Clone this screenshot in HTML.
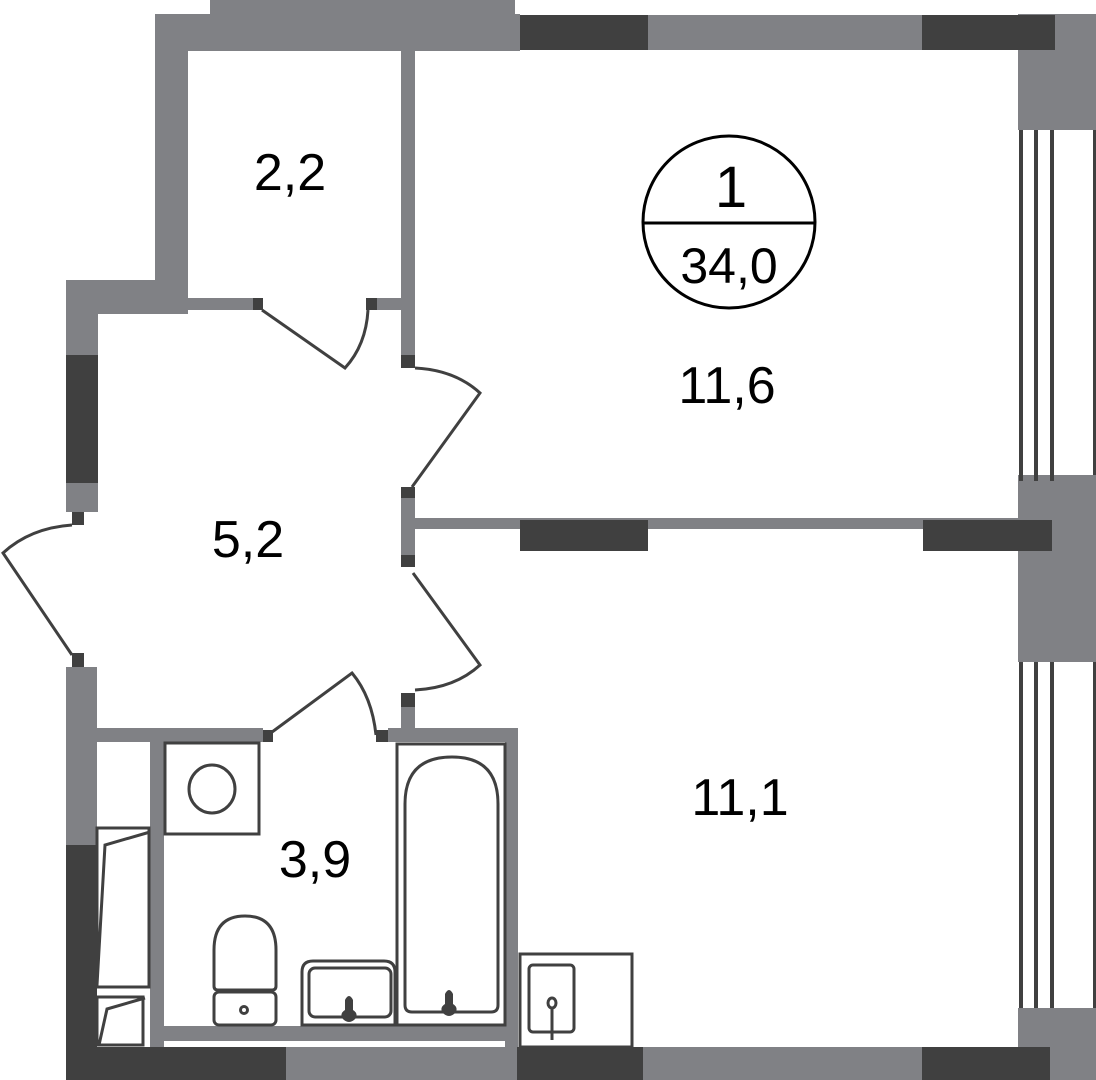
<!DOCTYPE html>
<html><head><meta charset="utf-8"><style>
html,body{margin:0;padding:0;background:#fff;}
svg{display:block;}
text{font-family:"Liberation Sans",Arial,sans-serif;fill:#000;}
</style></head><body>
<svg width="1096" height="1080" viewBox="0 0 1096 1080" xmlns="http://www.w3.org/2000/svg">
<g fill="#808185">
  <rect x="210" y="0" width="305" height="20"/>
  <rect x="155" y="14" width="365" height="37"/>
  <rect x="520" y="15" width="535" height="35"/>
  <rect x="155" y="14" width="33" height="296"/>
  <rect x="1018" y="14" width="78" height="116"/>
  <rect x="66" y="280" width="122" height="34"/>
  <rect x="188" y="298" width="65" height="12"/>
  <rect x="377" y="298" width="24" height="12"/>
  <rect x="401" y="51" width="14" height="304"/>
  <rect x="401" y="498" width="14" height="57"/>
  <rect x="415" y="518" width="603" height="11"/>
  <rect x="401" y="707" width="14" height="21"/>
  <rect x="66" y="310" width="32" height="45"/>
  <rect x="66" y="483" width="32" height="29"/>
  <rect x="66" y="667" width="31" height="178"/>
  <rect x="1018" y="475" width="78" height="187"/>
  <rect x="1018" y="1008" width="78" height="40"/>
  <rect x="97" y="728" width="166" height="14"/>
  <rect x="388" y="728" width="130" height="14"/>
  <rect x="150" y="742" width="14" height="305"/>
  <rect x="505" y="728" width="13" height="319"/>
  <rect x="150" y="1026" width="368" height="15"/>
  <rect x="286" y="1047" width="231" height="33"/>
  <rect x="643" y="1047" width="279" height="33"/>
  <rect x="1050" y="1047" width="46" height="33"/>
</g>
<g fill="#404040">
  <rect x="520" y="15" width="128" height="35"/>
  <rect x="922" y="15" width="133" height="35"/>
  <rect x="520" y="520" width="128" height="31"/>
  <rect x="923" y="520" width="129" height="31"/>
  <rect x="66" y="355" width="32" height="128"/>
  <rect x="66" y="845" width="31" height="235"/>
  <rect x="66" y="1047" width="220" height="33"/>
  <rect x="517" y="1047" width="126" height="33"/>
  <rect x="922" y="1047" width="128" height="33"/>
  <rect x="253" y="298" width="10" height="12"/>
  <rect x="366" y="298" width="11" height="12"/>
  <rect x="401" y="355" width="14" height="13"/>
  <rect x="401" y="487" width="14" height="11"/>
  <rect x="401" y="555" width="14" height="12"/>
  <rect x="401" y="693" width="14" height="14"/>
  <rect x="72" y="512" width="12" height="13"/>
  <rect x="72" y="653" width="12" height="14"/>
  <rect x="263" y="730" width="10" height="12"/>
  <rect x="376" y="730" width="12" height="12"/>
  <rect x="1019" y="130" width="4" height="351"/>
  <rect x="1034" y="130" width="4" height="351"/>
  <rect x="1050" y="130" width="4" height="351"/>
  <rect x="1093" y="130" width="3" height="345"/>
  <rect x="1019" y="662" width="4" height="346"/>
  <rect x="1034" y="662" width="4" height="346"/>
  <rect x="1050" y="662" width="4" height="346"/>
  <rect x="1093" y="662" width="3" height="346"/>
</g>
<g fill="none" stroke="#404040" stroke-width="3">
  <path d="M262 310 L345 368 Q366 345 368 310"/>
  <path d="M415 368 Q455 370 480 393 L412 487"/>
  <path d="M413 573 L480 665 Q455 688 415 690"/>
  <path d="M72 525 Q30 528 3 553 L72 655"/>
  <path d="M268 735 L352 673 Q372 697 376 735"/>
  <rect x="97" y="828" width="52" height="159"/>
  <path d="M97 985 L105 845 L150 832"/>
  <rect x="97" y="997" width="46" height="48"/>
  <path d="M99 1045 L107 1009 L145 998"/>
  <rect x="165" y="743" width="94" height="91"/>
  <ellipse cx="212" cy="789" rx="23" ry="24"/>
  <path d="M214 986 L214 950 Q214 916 245 916 Q276 916 276 950 L276 986 Q276 990 272 990 L218 990 Q214 990 214 986 Z"/>
  <rect x="214" y="992" width="62" height="33" rx="5"/>
  <circle cx="244" cy="1010" r="3.5"/>
  <path d="M302 1025 L302 972 Q302 961 313 961 L384 961 Q395 961 395 972 L395 1025 Z"/>
  <rect x="309" y="968" width="82" height="49" rx="6"/>
  <rect x="397" y="744" width="108" height="281"/>
  <path d="M405 1005 L405 804 Q405 757 452 757 Q498 757 498 804 L498 1005 Q498 1012 491 1012 L412 1012 Q405 1012 405 1005 Z"/>
  <rect x="520" y="954" width="112" height="93"/>
  <rect x="529" y="965" width="45" height="67" rx="4"/>
  <ellipse cx="552" cy="1003" rx="4" ry="5"/>
  <line x1="552" y1="1008" x2="552" y2="1040"/>
</g>
<g fill="#404040">
  <path d="M345 1000 Q349 992 353 1000 L353 1010 Q358 1013 356 1018 Q349 1026 342 1018 Q340 1013 345 1010 Z"/>
  <path d="M445 994 Q449 986 453 994 L453 1004 Q458 1007 456 1012 Q449 1020 442 1012 Q440 1007 445 1004 Z"/>
</g>
<circle cx="729" cy="222" r="86" fill="none" stroke="#000" stroke-width="3"/>
<line x1="643" y1="223" x2="815" y2="223" stroke="#000" stroke-width="3"/>
<text x="731" y="207" font-size="58" text-anchor="middle">1</text>
<text x="729" y="283" font-size="50" text-anchor="middle">34,0</text>
<text x="290" y="190" font-size="52" text-anchor="middle">2,2</text>
<text x="727" y="403" font-size="52" text-anchor="middle">11,6</text>
<text x="248" y="557" font-size="52" text-anchor="middle">5,2</text>
<text x="740" y="815" font-size="52" text-anchor="middle">11,1</text>
<text x="315" y="877" font-size="52" text-anchor="middle">3,9</text>
</svg>
</body></html>
